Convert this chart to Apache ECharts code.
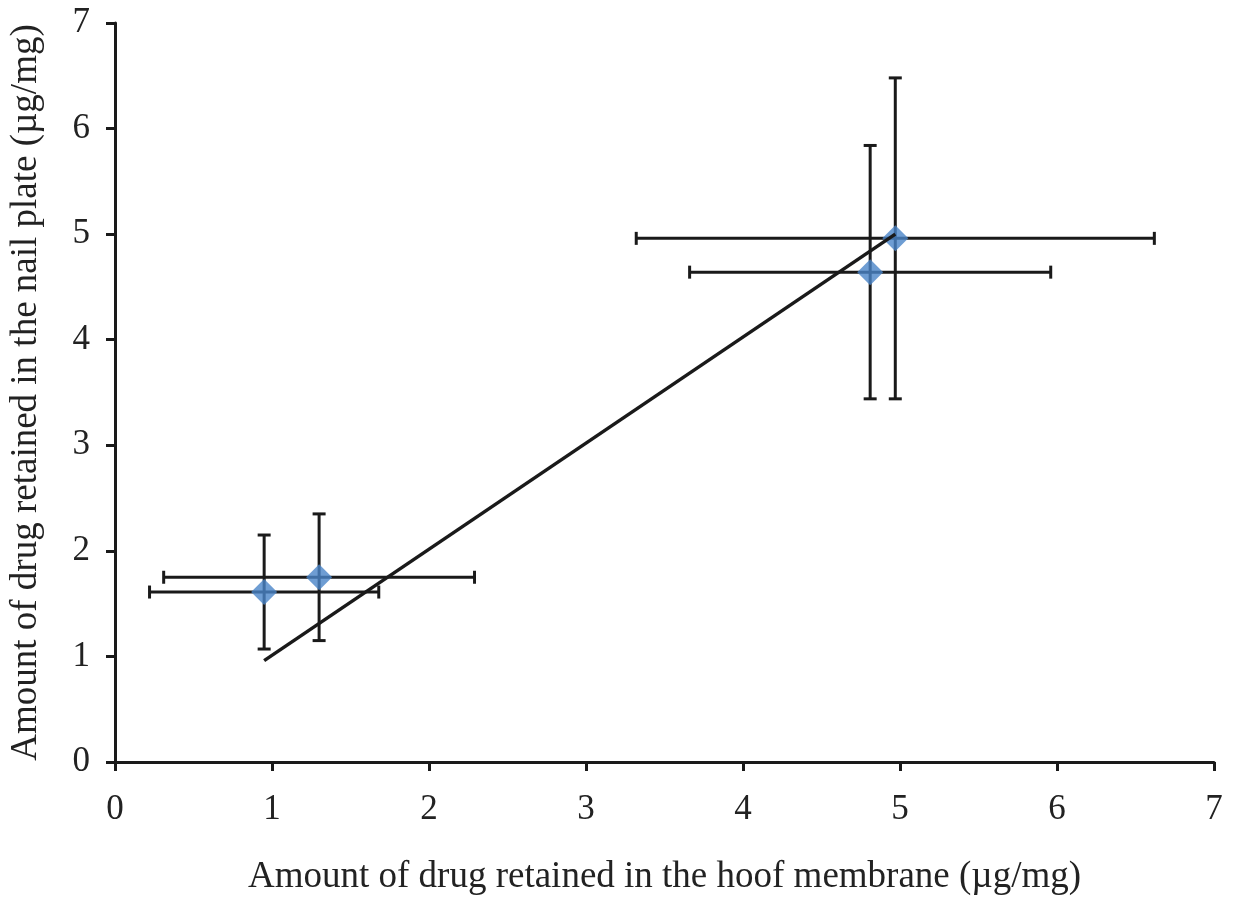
<!DOCTYPE html>
<html>
<head>
<meta charset="utf-8">
<script src="https://cdn.jsdelivr.net/npm/echarts@6/dist/echarts.min.js"></script>
<style>
  html, body { margin: 0; padding: 0; background: #fff; }
  #chart { width: 1241px; height: 901px; }
</style>
</head>
<body>
<div id="chart"></div>
<script>
// measured points: hoof membrane (x) vs nail plate (y), µg/mg
const xVals = [0.95, 1.30, 4.81, 4.97];
const yVals = [1.61, 1.75, 4.64, 4.96];
const xErr = [0.73, 0.99, 1.15, 1.65];
const yErr = [0.54, 0.60, 1.20, 1.52];
// linear trend line end points
const trendX = [0.95, 4.97];
const trendY = [0.96, 5.00];
const tickLabels = ['0', '1', '2', '3', '4', '5', '6', '7'];

const FONT = 'Liberation Serif';
const INK = '#1a1a1a';

const chart = echarts.init(document.getElementById('chart'));

const axisCommon = {
  type: 'value',
  min: 0,
  max: 7,
  interval: 1,
  splitLine: { show: false },
  axisLine: { show: true, onZero: false, lineStyle: { color: INK, width: 3 } },
  axisTick: { show: true, inside: false, length: 9, lineStyle: { color: INK, width: 3 } },
  axisLabel: {
    color: '#222',
    fontFamily: FONT,
    fontSize: 35,
    formatter: v => tickLabels[v] ?? String(v),
  },
  nameLocation: 'middle',
  nameTextStyle: { color: '#222', fontFamily: FONT, fontSize: 37 },
};

chart.setOption({
  animation: false,
  grid: { left: 115, right: 27, top: 23, bottom: 133 },
  xAxis: {
    ...axisCommon,
    name: 'Amount of drug retained in the hoof membrane (µg/mg)',
    nameGap: 97,
    axisLabel: { ...axisCommon.axisLabel, margin: 30 },
  },
  yAxis: {
    ...axisCommon,
    name: 'Amount of drug retained in the nail plate (µg/mg)',
    nameGap: 70,
    axisLabel: { ...axisCommon.axisLabel, margin: 25 },
  },
  series: [
    {
      type: 'custom',
      name: 'error',
      data: xVals.map((x, i) => [x, yVals[i], xErr[i], yErr[i]]),
      renderItem: (params, api) => {
        const x = api.value(0), y = api.value(1);
        const ex = api.value(2), ey = api.value(3);
        const l = api.coord([x - ex, y]);
        const r = api.coord([x + ex, y]);
        const t = api.coord([x, y + ey]);
        const b = api.coord([x, y - ey]);
        const cap = 6.5;
        const st = { stroke: INK, lineWidth: 3 };
        const line = (x1, y1, x2, y2) => ({ type: 'line', shape: { x1, y1, x2, y2 }, style: st });
        return {
          type: 'group',
          children: [
            line(l[0], l[1], r[0], r[1]),
            line(l[0], l[1] - cap, l[0], l[1] + cap),
            line(r[0], r[1] - cap, r[0], r[1] + cap),
            line(t[0], t[1], b[0], b[1]),
            line(t[0] - cap, t[1], t[0] + cap, t[1]),
            line(b[0] - cap, b[1], b[0] + cap, b[1]),
          ],
        };
      },
      z: 1,
    },
    {
      type: 'scatter',
      data: xVals.map((x, i) => [x, yVals[i]]),
      symbol: 'diamond',
      symbolSize: [26, 26],
      itemStyle: { color: '#4a84c8' },
      z: 2,
    },
    {
      type: 'line',
      data: trendX.map((x, i) => [x, trendY[i]]),
      showSymbol: false,
      symbol: 'none',
      lineStyle: { color: INK, width: 3.5 },
      z: 3,
    },
  ],
});
</script>
</body>
</html>
